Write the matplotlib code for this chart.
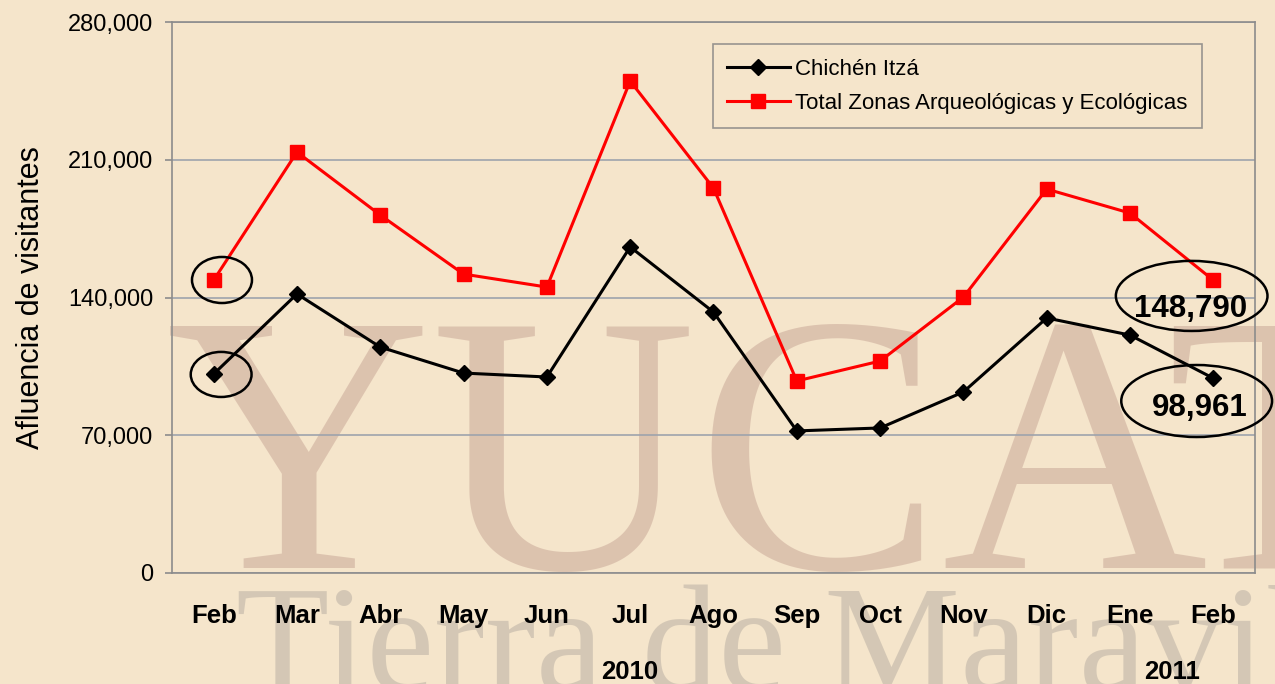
import matplotlib.pyplot as plt
from matplotlib.patches import Ellipse
from matplotlib.ticker import FuncFormatter, MultipleLocator
import numpy as np

# monthly visitors, Feb 2010 - Feb 2011
months = ['Feb', 'Mar', 'Abr', 'May', 'Jun', 'Jul', 'Ago', 'Sep', 'Oct', 'Nov', 'Dic', 'Ene', 'Feb']
chichen = [101100, 141800, 114800, 101600, 99600, 165700, 132600, 72200, 73700, 92000, 129600, 120900, 98961]
total = [148790, 213900, 181900, 151900, 145300, 250000, 195600, 97600, 107700, 140200, 195100, 182900, 148790]
years = ['2010', '2011']
year_pos = [5.0, 11.5]

bg = '#F5E5CB'
plt.rcParams['font.family'] = ['Liberation Sans', 'DejaVu Sans']

fig = plt.figure(figsize=(12.75, 6.84), dpi=100, facecolor=bg)

# faded watermark of the slide background
fig.text(0.13, 0.17, 'YUCATÁN', fontsize=265, family='Liberation Serif',
         color='#C5A293', alpha=0.5, ha='left', va='baseline', zorder=-2)
fig.text(0.185, -0.01, 'Tierra de Maravillas', fontsize=110, family='Liberation Serif',
         color='#B5ABA0', alpha=0.5, ha='left', va='baseline', zorder=-2)

ax = fig.add_axes([0.1349, 0.1623, 0.8494, 0.8055])
ax.set_facecolor('none')

x = np.arange(len(months))
ax.plot(x, chichen, color='black', lw=2.2, marker='D', ms=8, label='Chichén Itzá', zorder=4)
ax.plot(x, total, color='#FF0000', lw=2.2, marker='s', ms=9.5,
        label='Total Zonas Arqueológicas y Ecológicas', zorder=4)

ax.set_xlim(-0.5, len(months) - 0.5)
ax.set_ylim(0, 280000)
ax.yaxis.set_major_locator(MultipleLocator(70000))
ax.yaxis.set_major_formatter(FuncFormatter(lambda v, p: f'{int(v):,}'))
ax.grid(axis='y', color='#9EA3AC', lw=1.2)
ax.set_axisbelow(True)
for s in ax.spines.values():
    s.set_color('#8C8C8C')
    s.set_linewidth(1.2)

ax.set_xticks(x)
ax.set_xticklabels(months, fontsize=18.5, fontweight='bold')
ax.tick_params(axis='x', length=0, pad=22)
ax.tick_params(axis='y', length=5, width=1.2, color='#8C8C8C', pad=8.5, labelsize=17)
ax.set_ylabel('Afluencia de visitantes', fontsize=22, labelpad=16)

for yr, xp in zip(years, year_pos):
    ax.text(xp, -0.18, yr, transform=ax.get_xaxis_transform(), ha='center', va='center',
            fontsize=18.5, fontweight='bold')

# highlighted points
circles = [(0.10, 148900, 0.72, 23400), (0.09, 100900, 0.73, 22900),
           (11.74, 140800, 1.82, 35600), (11.80, 87400, 1.81, 36600)]
for cx, cy, w, h in circles:
    ax.add_patch(Ellipse((cx, cy), w, h, fill=False, ec='black', lw=1.8, clip_on=False, zorder=5))

ax.text(11.73, 134100, f'{total[-1]:,}', ha='center', va='center', fontsize=22.5, fontweight='bold', zorder=6)
ax.text(11.84, 83800, f'{chichen[-1]:,}', ha='center', va='center', fontsize=22.5, fontweight='bold', zorder=6)

leg = ax.legend(loc='upper right', bbox_to_anchor=(0.951, 0.96), fontsize=16, frameon=True,
                fancybox=False, edgecolor='#808080', facecolor='none', handlelength=2.8,
                handletextpad=0.25, labelspacing=0.6, borderpad=0.65, borderaxespad=0)
leg.get_frame().set_linewidth(1.2)

fig.savefig('out.png', dpi=100, facecolor=bg)
